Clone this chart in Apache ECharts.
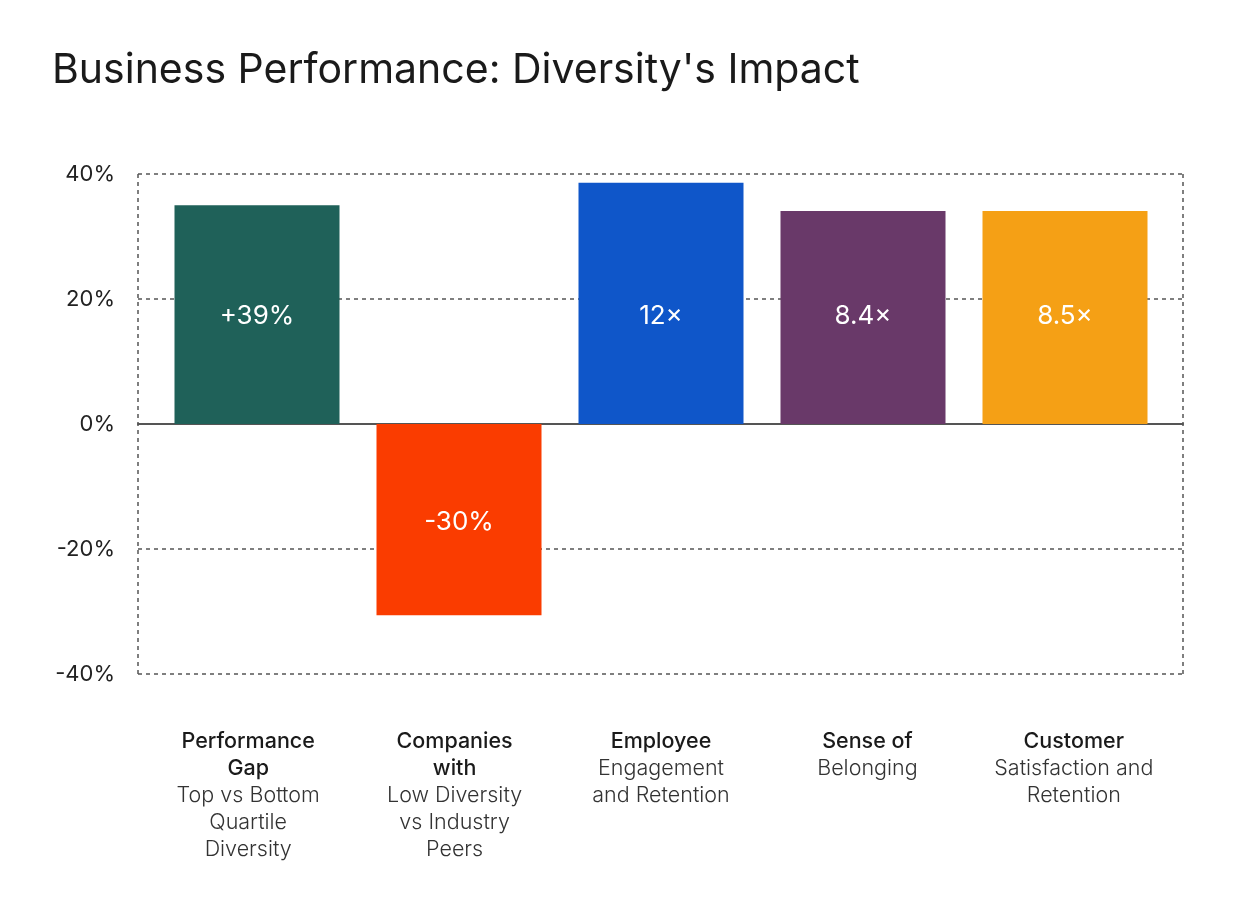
<!DOCTYPE html>
<html>
<head>
<meta charset="utf-8">
<script src="https://cdn.jsdelivr.net/npm/echarts@6/dist/echarts.min.js"></script>
<style>
  html, body { margin: 0; padding: 0; background: #ffffff; }
  #chart { width: 1250px; height: 919px; }
</style>
</head>
<body>
<div id="chart"></div>
<script>
// ---- data ----
const titleText = "Business Performance: Diversity's Impact";
const categoryBold = ["Performance\nGap", "Companies\nwith", "Employee", "Sense of", "Customer"];
const categoryRegular = ["Top vs Bottom\nQuartile\nDiversity", "Low Diversity\nvs Industry\nPeers", "Engagement\nand Retention", "Belonging", "Satisfaction and\nRetention"];
const barValues = [35, -30.6, 38.6, 34.1, 34.1];
const barLabels = ["+39%", "-30%", "12×", "8.4×", "8.5×"];
const barColors = ["#1f6159", "#fa3c00", "#0f56c9", "#693969", "#f5a015"];
const yTicks = [-40, -20, 0, 20, 40];

// label anchors (value-axis positions where the value labels sit)
const POS_LABEL_AT = 17.2;
const NEG_LABEL_AT = -15.7;

const font = "Inter, 'Noto Sans', sans-serif";
const cats = categoryBold.map((b, i) => "c" + i);

const chart = echarts.init(document.getElementById('chart'), null, { renderer: 'canvas' });

const gridTop = 174, gridBottom = 245;

const option = {
  backgroundColor: '#ffffff',
  animation: false,
  title: {
    text: titleText,
    left: 47,
    top: 45,
    textStyle: { fontFamily: font, fontSize: 41, fontWeight: 400, color: '#1a1a1a' }
  },
  grid: [
    { left: 138, right: 67, top: gridTop, bottom: gridBottom },
    { left: 156, right: 84, top: gridTop, bottom: gridBottom },
    { left: 145, right: 73, top: gridTop, bottom: gridBottom }
  ],
  xAxis: [
    {
      gridIndex: 0, type: 'value', min: 0, max: 1, interval: 1,
      axisLabel: { show: false }, axisTick: { show: false },
      axisLine: { show: true, onZero: true, lineStyle: { color: '#555555', width: 2 } },
      splitLine: { show: true, lineStyle: { color: '#555555', type: [4, 4], width: 1.5 } }
    },
    {
      gridIndex: 1, type: 'category', data: cats,
      axisLabel: { show: false }, axisTick: { show: false },
      axisLine: { show: false, onZero: false }, splitLine: { show: false }
    },
    {
      gridIndex: 2, type: 'category', data: cats, position: 'bottom',
      axisTick: { show: false },
      axisLine: { show: false, onZero: false }, splitLine: { show: false },
      axisLabel: {
        show: true, interval: 0, margin: 54,
        formatter: function (val, idx) {
          const b = categoryBold[idx].split('\n').map(s => '{b|' + s + '}');
          const r = categoryRegular[idx].split('\n').map(s => '{r|' + s + '}');
          return b.concat(r).join('\n');
        },
        rich: {
          b: { fontFamily: font, fontSize: 21.5, fontWeight: 500, color: '#1a1a1a', lineHeight: 27 },
          r: { fontFamily: font, fontSize: 21.5, fontWeight: 300, color: '#333333', lineHeight: 27 }
        }
      }
    }
  ],
  yAxis: [
    {
      gridIndex: 0, type: 'value', min: yTicks[0], max: yTicks[yTicks.length - 1], interval: 20,
      axisLine: { show: false }, axisTick: { show: false },
      axisLabel: { fontFamily: font, fontSize: 22, color: '#222222', margin: 23, formatter: v => v + '%' },
      splitLine: { show: true, lineStyle: { color: '#555555', type: [4, 4], width: 1.5 } }
    },
    {
      gridIndex: 1, type: 'value', min: yTicks[0], max: yTicks[yTicks.length - 1], interval: 20,
      axisLine: { show: false }, axisTick: { show: false }, axisLabel: { show: false }, splitLine: { show: false }
    },
    {
      gridIndex: 2, type: 'value', min: yTicks[0], max: yTicks[yTicks.length - 1], interval: 20,
      axisLine: { show: false }, axisTick: { show: false }, axisLabel: { show: false }, splitLine: { show: false }
    }
  ],
  series: [
    {
      type: 'bar', xAxisIndex: 1, yAxisIndex: 1,
      barWidth: 165,
      data: barValues.map((v, i) => ({ value: v, itemStyle: { color: barColors[i] } })),
      label: { show: false }
    },
    {
      type: 'scatter', xAxisIndex: 1, yAxisIndex: 1,
      symbolSize: 1, itemStyle: { opacity: 0 },
      data: barValues.map((v, i) => [cats[i], v >= 0 ? POS_LABEL_AT : NEG_LABEL_AT]),
      label: {
        show: true, position: 'inside',
        formatter: p => barLabels[p.dataIndex],
        fontFamily: font, fontSize: 26, fontWeight: 400, color: '#ffffff', opacity: 1
      },
      z: 5
    }
  ]
};

chart.setOption(option);
</script>
</body>
</html>
